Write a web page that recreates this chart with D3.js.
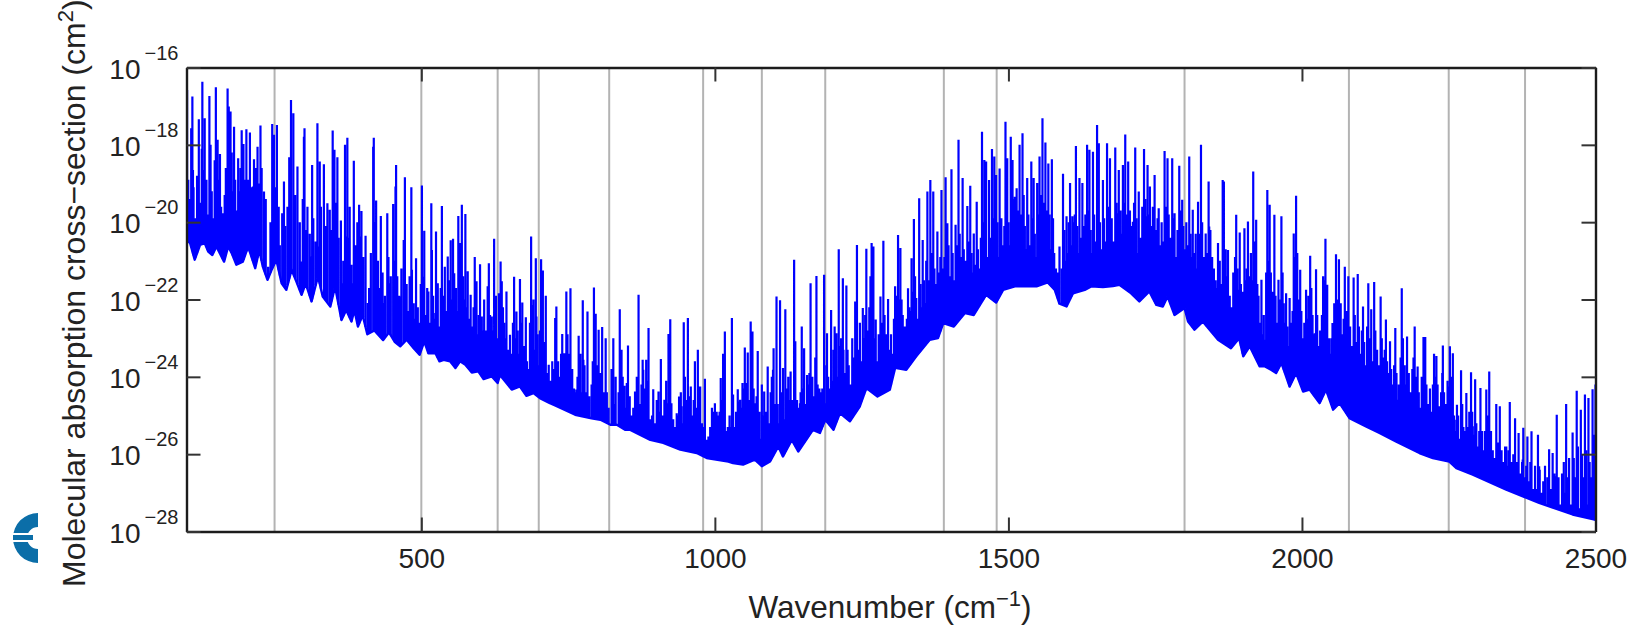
<!DOCTYPE html>
<html>
<head>
<meta charset="utf-8">
<script src="https://cdn.jsdelivr.net/npm/d3@7"></script>
<style>
  html, body { margin: 0; background: #fff; }
  text { font-family: "Liberation Sans", Arial, sans-serif; fill: #222; }
</style>
</head>
<body>
<svg id="chart" width="1636" height="626"></svg>
<script>
// all spectrum points are [wavenumber in cm-1, log10 of cross-section in cm2]

// tall lines, by stretch of the spectrum
var peaksFarIr = [[101,-16.58],[108,-17.57],[110,-16.75],[121,-17.34],[127,-16.37],[131,-17.31],[139,-16.74],[141,-18.0],[150,-16.51],[153,-17.87],[157,-18.24],[170,-16.54],[172,-17.01],[175,-17.14],[181,-17.53],[188,-18.35],[194,-17.62],[197,-17.98],[202,-17.6],[208,-17.68],[215,-18.37],[221,-18.05],[226,-17.5],[232,-19.21],[246,-17.46],[249,-17.74],[254,-17.49],[263,-19.77],[266,-18.95],[275,-18.32],[278,-16.84],[282,-17.18],[289,-18.56],[300,-17.79],[301,-17.57],[314,-18.52],[323,-17.44],[327,-18.43],[334,-18.5],[340,-19.51],[344,-19.68],[349,-17.63],[352,-18.13],[357,-18.32],[363,-19.96],[370,-18.0],[374,-17.82],[378,-19.6],[385,-18.41],[394,-19.55],[398,-19.71],[405,-20.35],[418,-18.05],[419,-17.82],[423,-19.44],[431,-19.84],[442,-19.77],[452,-19.53],[456,-19.08],[457,-18.52]];
var peaksWindowLeft = [[470,-20.46],[472,-18.84],[483,-19.1],[484,-21.23],[491,-20.93],[501,-19.05],[505,-20.22],[512,-21.79],[517,-19.51],[518,-20.72],[525,-20.24],[528,-21.58],[535,-19.58],[540,-21.15],[545,-20.89],[550,-20.47],[554,-20.43],[556,-21.32],[563,-19.84],[566,-20.54],[569,-19.55],[575,-19.79],[579,-21.27],[584,-21.88],[591,-20.9],[594,-21.53],[600,-21.09],[603,-22.44],[613,-21.66],[615,-21.06],[620,-22.44],[624,-20.43],[632,-21.84],[635,-21.02],[637,-21.53],[645,-21.79],[651,-22.91],[658,-21.41],[662,-22.31],[668,-21.47],[672,-22.08],[678,-22.46],[687,-20.37],[689,-22.14],[695,-20.93],[696,-22.44],[704,-20.96],[707,-21.25],[712,-21.9],[717,-23.69],[728,-22.48],[730,-22.18],[740,-22.89],[744,-23.39],[747,-21.79],[754,-21.71],[768,-22.94],[775,-22.02],[783,-22.31],[794,-21.69],[797,-22.37],[802,-22.78],[808,-22.71],[814,-23.0],[827,-23.0]];
var peaksWindowRight = [[838,-22.25],[841,-23.3],[846,-24.23],[852,-23.19],[864,-24.38],[870,-21.88],[877,-23.56],[883,-23.56],[887,-22.74],[895,-24.32],[904,-24.38],[908,-23.54],[914,-24.59],[921,-22.89],[924,-22.51],[926,-24.68],[935,-24.94],[939,-24.51],[947,-22.59],[954,-22.48],[959,-24.25],[966,-23.6],[971,-23.3],[975,-24.25],[983,-24.05],[989,-25.54],[1000,-24.72],[1010,-24.03],[1014,-23.4],[1017,-22.83],[1029,-22.48],[1031,-24.46],[1039,-24.32],[1042,-24.64],[1047,-24.16],[1051,-23.24],[1056,-23.37],[1061,-22.57],[1064,-22.83],[1073,-23.33],[1080,-24.2],[1084,-24.38],[1090,-23.73],[1100,-23.26],[1105,-21.92],[1111,-22.02],[1116,-23.77],[1120,-22.25],[1129,-23.86],[1135,-20.97],[1137,-23.08],[1148,-22.7],[1152,-23.26],[1157,-23.95],[1163,-21.58],[1173,-21.39],[1186,-21.36],[1191,-22.87],[1198,-22.27],[1204,-22.7],[1211,-20.7]];
var peaksBandRise = [[1218,-21.45],[1224,-21.64],[1239,-22.05],[1242,-20.59],[1252,-22.22],[1258,-20.69],[1265,-21.4],[1267,-20.54],[1270,-20.63],[1274,-22.52],[1282,-21.92],[1287,-20.48],[1295,-21.99],[1307,-21.66],[1312,-20.33],[1316,-20.67],[1329,-21.71],[1335,-20.93],[1339,-19.92],[1343,-21.96],[1348,-19.38],[1354,-20.46],[1362,-19.21],[1367,-18.91],[1372,-19.21],[1379,-20.24],[1386,-19.17],[1393,-18.84],[1396,-20.03],[1403,-18.63],[1410,-20.07],[1415,-17.87],[1422,-18.86],[1430,-19.58],[1435,-19.06],[1441,-20.29],[1446,-19.47],[1455,-17.66],[1459,-18.39],[1462,-18.43],[1467,-18.91],[1472,-18.11],[1476,-18.3],[1479,-18.78],[1485,-18.61],[1495,-17.4],[1498,-18.35],[1504,-17.79],[1507,-18.39],[1514,-19.12],[1519,-18.0],[1524,-17.7],[1532,-18.86],[1539,-18.43],[1543,-18.86],[1549,-18.99],[1553,-18.3],[1558,-17.31],[1563,-17.94],[1568,-18.48],[1574,-18.37]];
var peaksBandFall = [[1587,-20.63],[1593,-18.75],[1599,-19.85],[1605,-18.99],[1609,-19.85],[1615,-18.03],[1621,-18.86],[1626,-18.99],[1634,-18.0],[1638,-18.13],[1644,-18.18],[1651,-17.49],[1654,-17.96],[1661,-18.91],[1668,-17.96],[1673,-18.35],[1682,-18.07],[1688,-18.65],[1695,-18.52],[1699,-17.73],[1704,-18.43],[1716,-18.07],[1722,-19.21],[1731,-18.11],[1737,-18.52],[1741,-19.08],[1749,-18.78],[1756,-19.64],[1766,-18.16],[1771,-18.35],[1779,-18.35],[1783,-19.77],[1791,-18.54],[1796,-19.42],[1808,-18.3],[1814,-19.68],[1823,-19.47],[1828,-18.0],[1836,-20.29],[1841,-18.95],[1857,-20.54],[1865,-18.91],[1867,-18.95],[1874,-20.72],[1888,-19.81]];
var peaksTail = [[1894,-20.27],[1902,-20.16],[1908,-19.98],[1917,-18.69],[1922,-19.94],[1931,-21.49],[1941,-19.17],[1945,-19.55],[1953,-19.81],[1960,-21.49],[1965,-19.85],[1973,-21.84],[1979,-21.96],[1986,-20.29],[1990,-19.32],[1997,-21.23],[2007,-21.75],[2014,-20.87],[2024,-21.22],[2036,-21.4],[2040,-20.43],[2043,-21.62],[2052,-22.61],[2058,-20.83],[2063,-20.96],[2073,-21.15],[2079,-21.4],[2088,-21.43],[2095,-21.34],[2104,-22.18],[2113,-21.58],[2118,-22.25],[2123,-21.55],[2134,-21.92],[2143,-22.52],[2150,-23.08],[2159,-22.74],[2170,-21.71],[2179,-22.96],[2192,-22.7],[2197,-23.73],[2207,-22.97],[2210,-22.97],[2225,-23.4],[2229,-23.46],[2240,-23.19],[2252,-23.21],[2257,-23.39],[2264,-24.72],[2271,-23.83],[2280,-24.42],[2288,-23.88],[2295,-24.06],[2304,-24.29],[2314,-24.33],[2319,-23.86],[2331,-24.7],[2337,-24.76],[2354,-24.65],[2363,-25.07],[2369,-25.45],[2377,-25.32],[2384,-25.54],[2391,-25.41],[2402,-25.5],[2421,-25.87],[2427,-25.97],[2434,-24.98],[2450,-24.7],[2461,-25.44],[2468,-24.36],[2475,-24.85],[2482,-24.46],[2488,-24.55],[2495,-24.32],[2500,-24.2]];

// lower edge of the spectrum
var floorEdge = [[100,-20.46],[106,-20.54],[114,-20.97],[123,-20.59],[131,-20.54],[137,-20.76],[144,-20.85],[151,-20.63],[164,-21.02],[171,-20.63],[177,-20.8],[185,-21.1],[196,-21.02],[205,-20.63],[217,-21.19],[224,-20.72],[230,-21.15],[238,-21.49],[245,-21.23],[253,-20.97],[262,-21.58],[270,-21.75],[279,-21.23],[287,-21.53],[296,-21.88],[303,-21.58],[313,-22.05],[324,-21.4],[332,-21.92],[345,-22.18],[353,-21.66],[364,-22.53],[372,-22.27],[381,-22.57],[386,-22.27],[392,-22.7],[400,-22.4],[408,-22.9],[420,-22.8],[435,-23.05],[445,-22.85],[455,-23.1],[464,-23.21],[475,-23.04],[487,-23.26],[497,-23.43],[505,-23.08],[512,-23.39],[524,-23.39],[531,-23.6],[538,-23.56],[549,-23.6],[558,-23.77],[566,-23.6],[575,-23.69],[586,-23.89],[597,-23.86],[606,-24.06],[620,-23.99],[630,-24.16],[634,-23.95],[654,-24.33],[668,-24.25],[679,-24.49],[691,-24.42],[702,-24.55],[719,-24.68],[725,-24.72],[762,-24.98],[790,-25.07],[805,-25.11],[822,-25.24],[833,-25.24],[847,-25.37],[856,-25.37],[873,-25.5],[890,-25.63],[912,-25.71],[941,-25.88],[969,-25.97],[986,-26.1],[1023,-26.19],[1031,-26.23],[1048,-26.27],[1068,-26.14],[1080,-26.31],[1094,-26.19],[1108,-25.8],[1116,-26.06],[1131,-25.63],[1142,-25.93],[1167,-25.37],[1179,-25.45],[1188,-25.11],[1202,-25.37],[1213,-24.94],[1230,-25.15],[1247,-24.76],[1258,-24.29],[1277,-24.51],[1298,-24.33],[1307,-23.77],[1326,-23.82],[1343,-23.47],[1366,-23.04],[1380,-23.0],[1389,-22.61],[1407,-22.7],[1426,-22.35],[1441,-22.4],[1462,-21.88],[1479,-22.08],[1491,-21.75],[1511,-21.66],[1528,-21.66],[1548,-21.66],[1567,-21.56],[1579,-21.75],[1587,-22.11],[1599,-22.18],[1610,-21.84],[1630,-21.75],[1641,-21.66],[1661,-21.68],[1678,-21.65],[1689,-21.62],[1709,-21.84],[1723,-22.05],[1740,-21.79],[1752,-22.14],[1763,-22.18],[1771,-21.92],[1783,-22.4],[1800,-22.22],[1806,-22.57],[1817,-22.78],[1831,-22.57],[1857,-23.04],[1879,-23.26],[1893,-23.0],[1900,-23.47],[1911,-23.21],[1928,-23.73],[1937,-23.73],[1948,-23.82],[1956,-23.9],[1965,-23.64],[1979,-24.25],[1990,-23.9],[2002,-24.38],[2013,-24.33],[2030,-24.68],[2041,-24.33],[2053,-24.85],[2064,-24.68],[2081,-25.07],[2109,-25.28],[2132,-25.45],[2160,-25.67],[2200,-25.97],[2223,-26.1],[2251,-26.19],[2263,-26.36],[2291,-26.53],[2348,-26.92],[2404,-27.26],[2461,-27.56],[2495,-27.68],[2500,-27.7]];

// medium lines
var midLines = [[100,-18.48],[111,-18.65],[123,-19.68],[128,-18.65],[140,-19.77],[151,-19.08],[162,-19.77],[174,-18.65],[185,-19.85],[199,-19.68],[213,-19.08],[222,-20.03],[233,-20.2],[239,-21.15],[249,-19.51],[259,-20.72],[273,-19.85],[284,-20.11],[296,-21.02],[301,-19.94],[313,-20.89],[324,-20.63],[335,-20.97],[344,-21.4],[352,-19.68],[364,-21.58],[372,-20.37],[384,-21.58],[395,-20.37],[409,-22.09],[420,-20.72],[435,-22.09],[446,-21.58],[463,-21.92],[470,-22.01],[481,-22.52],[492,-23.04],[504,-21.41],[512,-22.87],[521,-22.35],[529,-23.04],[538,-22.35],[546,-22.7],[558,-22.18],[569,-22.27],[580,-22.87],[592,-23.13],[600,-23.3],[617,-22.61],[628,-23.13],[634,-21.84],[645,-22.96],[660,-23.56],[668,-23.13],[679,-24.08],[691,-23.13],[702,-23.39],[713,-24.08],[725,-24.16],[742,-23.39],[753,-23.99],[764,-24.33],[776,-23.56],[793,-24.33],[805,-23.9],[813,-25.11],[825,-24.68],[839,-25.02],[850,-24.16],[858,-25.2],[878,-23.82],[890,-25.45],[901,-25.28],[918,-24.68],[932,-25.37],[943,-24.76],[958,-25.45],[972,-24.25],[986,-25.63],[1000,-24.68],[1017,-25.28],[1031,-25.28],[1043,-24.59],[1054,-24.16],[1068,-24.68],[1082,-25.02],[1099,-23.82],[1116,-24.25],[1131,-24.68],[1145,-24.68],[1156,-24.94],[1173,-24.25],[1188,-24.68],[1196,-24.42],[1207,-22.87],[1219,-23.3],[1233,-24.33],[1247,-23.47],[1261,-23.39],[1275,-23.82],[1290,-23.3],[1298,-23.9],[1309,-22.52],[1326,-22.7],[1341,-22.7],[1358,-22.44],[1372,-21.66],[1389,-21.4],[1409,-22.18],[1429,-21.15],[1462,-20.89],[1479,-20.63],[1496,-20.03],[1511,-19.34],[1525,-19.68],[1539,-20.54],[1548,-20.97],[1559,-20.29],[1576,-20.97],[1587,-21.84],[1599,-21.32],[1610,-20.2],[1621,-20.97],[1635,-20.11],[1650,-20.97],[1661,-20.2],[1675,-20.63],[1686,-19.77],[1701,-20.89],[1712,-19.99],[1723,-21.66],[1735,-19.85],[1752,-20.89],[1771,-20.11],[1783,-21.66],[1794,-20.03],[1808,-21.32],[1823,-21.15],[1834,-21.92],[1842,-20.11],[1854,-22.09],[1865,-20.89],[1879,-22.7],[1891,-21.75],[1900,-22.35],[1911,-22.18],[1922,-22.52],[1937,-23.04],[1945,-21.49],[1956,-22.87],[1965,-22.35],[1979,-23.56],[1988,-21.49],[1999,-23.47],[2010,-23.04],[2022,-22.87],[2033,-23.21],[2044,-23.73],[2056,-23.99],[2070,-23.56],[2087,-23.73],[2104,-23.9],[2121,-24.25],[2135,-23.56],[2149,-23.9],[2163,-24.59],[2180,-24.42],[2195,-24.76],[2212,-24.76],[2234,-24.76],[2251,-24.25],[2263,-25.11],[2291,-25.28],[2319,-25.11],[2348,-25.8],[2376,-26.14],[2404,-26.31],[2433,-26.57],[2461,-26.31],[2484,-26.14],[2500,-25.45]];

// short lines that pack together above the floor
var shortFarIr = [[103,-18.9],[106,-19.4],[112,-19.1],[115,-19.9],[118,-18.8],[124,-19.5],[126,-18.1],[134,-18.9],[136,-19.8],[143,-19.2],[146,-19.9],[148,-18.4],[155,-18.9],[159,-19.6],[161,-20.1],[165,-19.3],[167,-18.6],[177,-18.2],[179,-19.2],[183,-18.9],[186,-19.7],[190,-19.2],[192,-18.6],[199,-18.9],[205,-18.9],[211,-19.1],[218,-18.6],[224,-19.0],[228,-18.6],[235,-19.4],[243,-20.0],[248,-18.6],[251,-19.1],[257,-19.6],[259,-20.6],[268,-20.1],[272,-19.6],[276,-19.4],[285,-19.3],[293,-20.0],[298,-19.4],[304,-20.2],[306,-19.6],[310,-20.3],[316,-19.9],[320,-20.5],[329,-19.6],[337,-20.1],[347,-20.2],[355,-19.5],[359,-20.4],[367,-21.0],[376,-20.4],[381,-21.1],[388,-20.6],[391,-20.0],[396,-21.2],[401,-20.9],[411,-21.7],[414,-20.8],[421,-20.0],[426,-21.0],[428,-21.7],[434,-21.3],[438,-21.9],[444,-20.9],[448,-21.4],[454,-21.0],[459,-21.4],[462,-21.9],[466,-21.2]];
var shortWindowLeft = [[475,-21.6],[478,-22.3],[480,-21.4],[487,-22.1],[489,-22.5],[494,-22.2],[497,-22.6],[499,-21.6],[503,-22.0],[508,-22.4],[510,-21.7],[514,-22.6],[520,-21.9],[523,-22.5],[527,-22.1],[531,-22.7],[533,-21.7],[537,-21.9],[542,-22.3],[548,-21.5],[552,-22.0],[559,-21.7],[561,-22.3],[565,-21.9],[571,-21.4],[573,-22.0],[577,-22.2],[581,-22.5],[586,-22.7],[589,-22.2],[596,-22.9],[598,-22.4],[605,-22.8],[607,-22.0],[610,-22.8],[617,-22.4],[622,-22.8],[627,-21.9],[629,-23.0],[639,-22.2],[641,-22.6],[643,-23.0],[648,-23.3],[654,-23.4],[656,-22.6],[660,-23.0],[664,-22.8],[666,-23.4],[670,-22.6],[675,-23.2],[680,-23.6],[683,-23.8],[685,-22.6],[691,-22.0],[693,-23.3],[698,-22.9],[700,-23.7],[702,-22.8],[709,-23.1],[714,-23.9],[720,-24.1],[723,-23.6],[726,-23.8],[733,-23.6],[735,-24.0],[738,-23.4],[742,-24.2],[749,-22.9],[752,-23.4],[757,-23.8],[760,-24.3],[763,-24.4],[766,-24.0],[771,-23.4],[773,-24.4],[778,-23.7],[781,-24.4],[786,-24.5],[790,-24.2],[792,-23.6],[799,-23.7],[804,-24.0],[806,-24.5],[811,-24.4],[816,-24.4],[819,-24.8],[824,-23.8],[829,-24.7],[831,-24.0],[836,-24.4],[843,-24.0],[849,-24.8]];
var shortWindowRight = [[855,-24.5],[858,-25.0],[861,-24.8],[867,-24.0],[872,-24.7],[875,-24.2],[880,-24.3],[885,-24.1],[890,-25.1],[893,-25.0],[898,-25.2],[901,-24.6],[906,-24.9],[911,-25.0],[917,-24.1],[919,-24.8],[929,-25.1],[932,-25.3],[937,-25.0],[942,-24.4],[944,-25.2],[949,-24.0],[951,-24.6],[956,-24.5],[962,-25.0],[964,-24.6],[968,-24.8],[973,-24.8],[978,-25.2],[981,-25.3],[986,-25.7],[992,-25.3],[995,-24.8],[998,-24.9],[1003,-24.9],[1006,-25.0],[1008,-24.9],[1012,-24.6],[1019,-25.4],[1022,-25.3],[1025,-25.0],[1027,-25.3],[1033,-25.3],[1036,-24.9],[1041,-25.5],[1044,-24.8],[1049,-24.3],[1053,-25.0],[1059,-24.6],[1066,-24.3],[1069,-25.3],[1071,-24.5],[1076,-24.9],[1078,-25.6],[1082,-25.0],[1087,-24.9],[1092,-25.2],[1095,-24.4],[1097,-24.0],[1102,-24.7],[1107,-24.7],[1109,-25.2],[1113,-24.4],[1118,-25.1],[1122,-24.3],[1125,-24.0],[1127,-24.6],[1132,-24.6],[1140,-24.6],[1143,-24.8],[1146,-24.4],[1150,-24.3],[1154,-24.7],[1159,-24.2],[1161,-23.9],[1166,-24.0],[1168,-24.5],[1171,-23.5],[1175,-24.2],[1178,-24.3],[1181,-24.4],[1183,-24.3],[1190,-23.7],[1193,-24.0],[1195,-24.3],[1200,-24.1],[1202,-23.3],[1206,-23.0],[1209,-24.0]];
var shortBandRise = [[1213,-23.2],[1215,-23.0],[1221,-23.9],[1226,-23.3],[1228,-23.7],[1231,-24.2],[1234,-23.0],[1236,-23.5],[1241,-22.8],[1244,-23.3],[1247,-22.6],[1250,-23.6],[1254,-23.0],[1256,-22.4],[1260,-22.8],[1263,-22.2],[1269,-22.5],[1272,-23.0],[1276,-23.6],[1279,-22.9],[1284,-22.6],[1289,-22.4],[1292,-22.9],[1297,-23.3],[1300,-22.9],[1303,-23.4],[1305,-22.5],[1310,-21.9],[1314,-22.0],[1318,-22.0],[1320,-22.4],[1323,-22.7],[1327,-22.5],[1331,-22.2],[1333,-22.3],[1337,-21.8],[1341,-21.4],[1345,-22.5],[1350,-21.6],[1352,-22.2],[1356,-21.5],[1358,-22.1],[1360,-21.0],[1364,-21.5],[1369,-20.8],[1371,-21.6],[1374,-21.2],[1377,-21.6],[1381,-21.3],[1384,-20.9],[1388,-21.2],[1391,-20.9],[1394,-21.1],[1398,-20.6],[1401,-21.4],[1405,-20.8],[1408,-21.5],[1412,-20.6],[1417,-20.3],[1419,-20.9],[1424,-20.7],[1427,-21.0],[1432,-20.5],[1437,-20.8],[1439,-21.3],[1443,-21.1],[1448,-20.7],[1450,-21.2],[1453,-20.4],[1457,-20.0],[1461,-20.3],[1464,-20.9],[1469,-20.4],[1471,-21.1],[1474,-19.9],[1477,-20.6],[1481,-20.0],[1483,-20.9],[1488,-19.9],[1490,-20.6],[1493,-20.1],[1497,-19.4],[1500,-20.0],[1502,-20.6],[1505,-19.7],[1509,-19.4],[1512,-20.2],[1516,-19.7],[1518,-20.5],[1521,-19.8],[1526,-19.3],[1528,-20.1],[1530,-20.7],[1534,-19.8],[1536,-20.6],[1541,-19.9],[1545,-20.3],[1547,-20.9],[1551,-19.8],[1555,-19.3],[1557,-20.2],[1560,-19.5],[1565,-19.7],[1567,-20.4],[1570,-19.8],[1572,-20.7],[1576,-19.9],[1578,-20.8],[1581,-21.2],[1584,-21.3]];
var shortBandFall = [[1591,-21.2],[1595,-20.2],[1597,-21.0],[1601,-20.8],[1603,-20.0],[1607,-20.6],[1611,-20.0],[1613,-19.8],[1617,-20.1],[1619,-20.8],[1623,-20.4],[1625,-20.9],[1628,-20.1],[1631,-19.8],[1633,-20.7],[1636,-19.7],[1640,-20.2],[1642,-20.8],[1646,-19.8],[1648,-20.5],[1653,-19.6],[1656,-20.0],[1658,-20.7],[1663,-19.9],[1665,-20.5],[1670,-19.6],[1672,-20.4],[1676,-19.9],[1679,-20.5],[1684,-19.5],[1687,-20.0],[1691,-19.7],[1693,-20.3],[1697,-19.5],[1701,-19.8],[1703,-20.5],[1707,-19.7],[1710,-20.1],[1714,-19.5],[1718,-19.9],[1720,-20.8],[1725,-20.4],[1728,-19.6],[1733,-19.4],[1735,-20.1],[1739,-19.8],[1743,-20.1],[1746,-19.6],[1751,-20.2],[1754,-19.9],[1758,-20.6],[1761,-20.0],[1763,-20.5],[1768,-19.6],[1773,-19.8],[1776,-20.4],[1781,-19.9],[1785,-20.9],[1788,-20.2],[1793,-19.7],[1798,-20.1],[1800,-20.7],[1803,-20.0],[1806,-20.6],[1810,-20.3],[1812,-20.9],[1816,-20.8],[1819,-20.3],[1821,-21.2],[1826,-20.3],[1830,-20.0],[1833,-20.9],[1838,-20.8],[1844,-20.2],[1847,-20.9],[1850,-21.2],[1853,-21.5],[1856,-21.7],[1860,-21.0],[1862,-21.6],[1870,-20.7],[1872,-21.4],[1877,-21.9],[1880,-22.2],[1883,-21.3],[1886,-20.9],[1890,-21.2],[1892,-22.1]];
var shortTail = [[1896,-21.6],[1899,-21.8],[1904,-21.5],[1906,-21.2],[1910,-21.4],[1913,-20.8],[1915,-21.5],[1919,-20.5],[1924,-21.6],[1926,-21.9],[1929,-22.6],[1933,-22.9],[1935,-22.4],[1939,-21.3],[1943,-21.0],[1947,-21.3],[1950,-21.8],[1955,-21.9],[1958,-22.6],[1962,-22.0],[1967,-21.3],[1969,-22.1],[1971,-22.6],[1975,-22.7],[1977,-23.2],[1982,-22.6],[1984,-22.3],[1988,-20.9],[1992,-20.8],[1994,-22.0],[1999,-22.3],[2001,-23.0],[2004,-22.6],[2009,-22.5],[2011,-21.9],[2016,-21.7],[2018,-22.4],[2020,-22.9],[2026,-22.4],[2028,-23.2],[2031,-22.8],[2034,-22.4],[2038,-21.5],[2042,-22.6],[2046,-23.0],[2048,-23.4],[2050,-23.0],[2055,-22.1],[2060,-22.0],[2062,-22.8],[2066,-22.1],[2069,-22.9],[2071,-22.5],[2076,-22.3],[2078,-23.2],[2082,-22.7],[2085,-23.2],[2090,-22.4],[2092,-23.1],[2097,-22.7],[2100,-23.4],[2102,-22.8],[2106,-23.1],[2108,-23.7],[2111,-22.7],[2116,-23.0],[2120,-23.6],[2125,-22.8],[2128,-23.3],[2131,-23.7],[2136,-23.0],[2138,-23.5],[2141,-23.3],[2145,-23.6],[2148,-23.9],[2152,-23.8],[2155,-24.2],[2157,-23.7],[2161,-23.9],[2165,-24.2],[2168,-23.5],[2172,-23.0],[2175,-23.7],[2177,-24.2],[2182,-23.9],[2185,-24.4],[2188,-23.8],[2190,-23.5],[2194,-24.0],[2199,-24.4],[2201,-24.8],[2204,-24.0],[2208,-23.9],[2212,-24.2],[2215,-24.7],[2218,-24.3],[2220,-24.9],[2223,-24.2],[2227,-24.0],[2231,-24.2],[2233,-24.8],[2237,-24.4],[2239,-23.9],[2242,-24.4],[2245,-24.7],[2248,-24.1],[2250,-24.6],[2254,-24.0],[2256,-24.7],[2259,-25.0],[2261,-25.4],[2266,-25.0],[2268,-25.6],[2273,-24.7],[2275,-25.3],[2278,-25.4],[2283,-25.3],[2285,-24.9],[2290,-24.9],[2293,-25.5],[2297,-25.2],[2300,-25.8],[2302,-25.4],[2307,-25.4],[2310,-25.9],[2312,-25.4],[2317,-25.0],[2322,-25.4],[2325,-25.9],[2328,-26.1],[2334,-25.7],[2340,-25.9],[2343,-26.2],[2346,-25.8],[2350,-26.3],[2352,-25.9],[2357,-26.2],[2360,-26.0],[2366,-26.2],[2372,-26.5],[2375,-26.2],[2380,-26.6],[2382,-26.3],[2387,-26.7],[2389,-26.2],[2394,-26.9],[2397,-26.3],[2399,-26.9],[2405,-26.4],[2408,-27.0],[2411,-26.7],[2414,-26.3],[2418,-26.6],[2424,-26.9],[2430,-26.5],[2433,-27.2],[2437,-26.6],[2440,-27.3],[2443,-26.5],[2446,-26.2],[2448,-27.0],[2452,-26.6],[2455,-26.1],[2458,-27.3],[2463,-26.1],[2466,-26.6],[2470,-25.8],[2472,-27.4],[2477,-26.0],[2480,-26.6],[2484,-25.9],[2486,-27.3],[2490,-26.2],[2492,-26.6],[2497,-25.5],[2499,-25.9]];

var bandEdges = [250, 500, 630, 700, 820, 980, 1080, 1188, 1390, 1480, 1800, 2080, 2250, 2380];
var xTicks = [500, 1000, 1500, 2000, 2500];
var yExponents = [-16, -18, -20, -22, -24, -26, -28];

var margin = {top: 67.5, right: 40.5, bottom: 94.5, left: 186.5},
width = 1636 - margin.left - margin.right,
height = 626 - margin.top - margin.bottom;

var svg = d3.select('#chart');

var x = d3.scaleLinear().domain([100, 2500]).range([0, width]);
var y = d3.scaleLog().domain([1e-28, 1e-16]).range([height, 0]);

// the reference is a slightly soft raster, the spectrum gets the same softness
svg.append('filter').attr('id', 'soft')
    .attr('filterUnits', 'userSpaceOnUse')
    .attr('x', 0).attr('y', 0).attr('width', 1636).attr('height', 626)
    .append('feGaussianBlur').attr('stdDeviation', 0.45);

var g = svg.append('g').attr('transform', 'translate(' + margin.left + ',' + margin.top + ')');

g.append('clipPath').attr('id', 'plot').append('rect').attr('width', width).attr('height', height);

// band limits go under the spectrum
g.selectAll('.band').data(bandEdges).enter().append('line')
    .attr('class', 'band')
    .attr('x1', d => x(d)).attr('x2', d => x(d))
    .attr('y1', 0).attr('y2', height)
    .attr('stroke', '#b3b3b3').attr('stroke-width', 2);

var line = d3.line()
    .defined(d => d !== null)
    .x(d => x(d[0]))
    .y(d => y(Math.pow(10, d[1])));

var spectrum = g.append('g').attr('clip-path', 'url(#plot)').append('g').attr('filter', 'url(#soft)');

// the lower edge itself
spectrum.append('path')
    .attr('d', line(floorEdge))
    .attr('fill', 'none').attr('stroke', '#0000ff').attr('stroke-width', 2.4).attr('stroke-linejoin', 'round');

// each line comes down to the lower edge
var floorAt = d3.bisector(d => d[0]);
function footOf(wn) {
    var i = Math.min(Math.max(floorAt.left(floorEdge, wn), 1), floorEdge.length - 1);
    var a = floorEdge[i - 1], b = floorEdge[i];
    return a[1] + (b[1] - a[1]) * (wn - a[0]) / (b[0] - a[0]);
}

var allLines = [].concat(peaksFarIr, peaksWindowLeft, peaksWindowRight, peaksBandRise, peaksBandFall, peaksTail, midLines,
    shortFarIr, shortWindowLeft, shortWindowRight, shortBandRise, shortBandFall, shortTail);
var sticks = [];
allLines.forEach(function(p) {
    sticks.push([p[0], footOf(p[0])], p, null);
});

spectrum.append('path')
    .attr('d', line(sticks))
    .attr('fill', 'none').attr('stroke', '#0000ff').attr('stroke-width', 2.2);

// axes, ticks point inwards on all four sides
var tickLen = 14;

g.append('g').attr('class', 'axis')
    .attr('transform', 'translate(0,' + height + ')')
    .call(d3.axisBottom(x).tickValues(xTicks).tickSize(-tickLen).tickPadding(17).tickSizeOuter(0).tickFormat(d3.format('d')));
g.append('g').attr('class', 'axis')
    .call(d3.axisTop(x).tickValues(xTicks).tickSize(-tickLen).tickFormat('').tickSizeOuter(0));
g.append('g').attr('class', 'axis')
    .call(d3.axisLeft(y).tickValues(yExponents.map(e => Math.pow(10, e))).tickSize(-tickLen).tickFormat('').tickSizeOuter(0));
g.append('g').attr('class', 'axis')
    .attr('transform', 'translate(' + width + ',0)')
    .call(d3.axisRight(y).tickValues(yExponents.map(e => Math.pow(10, e))).tickSize(-tickLen).tickFormat('').tickSizeOuter(0));

g.selectAll('.axis path').attr('stroke', '#1c1c1c').attr('stroke-width', 2.4);
g.selectAll('.axis line').attr('stroke', '#333').attr('stroke-width', 2);
g.selectAll('.axis text').attr('font-size', 28).style('fill', '#222');

// powers of ten on the left
yExponents.forEach(function(e) {
    var py = y(Math.pow(10, e));
    g.append('text')
        .attr('x', -46).attr('y', py + 11)
        .attr('text-anchor', 'end').attr('font-size', 28)
        .text('10');
    g.append('text')
        .attr('x', -8).attr('y', py - 8)
        .attr('text-anchor', 'end').attr('font-size', 20)
        .text('\u2212' + Math.abs(e));
});

// titles
var xTitle = svg.append('text')
    .attr('x', 890).attr('y', 618)
    .attr('text-anchor', 'middle').attr('font-size', 31.5);
xTitle.append('tspan').text('Wavenumber (cm');
xTitle.append('tspan').attr('font-size', 22).attr('dy', -12).text('\u22121');
xTitle.append('tspan').attr('dy', 12).text(')');

var yTitle = svg.append('text')
    .attr('transform', 'translate(85,587) rotate(-90)')
    .attr('font-size', 32);
yTitle.append('tspan').text('Molecular absorption cross\u2212section (cm');
yTitle.append('tspan').attr('font-size', 22).attr('dy', -12).text('2');
yTitle.append('tspan').attr('dy', 12).text(')');

// publisher mark, bottom left
var mark = svg.append('g').attr('transform', 'translate(38,538)');
mark.append('path')
    .attr('d', d3.arc().innerRadius(11).outerRadius(25).startAngle(Math.PI).endAngle(2 * Math.PI)())
    .attr('fill', '#0b6ea8');
mark.append('rect').attr('x', -25).attr('y', -5).attr('width', 20).attr('height', 2).attr('fill', '#fff');
mark.append('rect').attr('x', -25).attr('y', 2).attr('width', 20).attr('height', 2).attr('fill', '#fff');
mark.append('rect').attr('x', -25).attr('y', -3).attr('width', 20).attr('height', 5).attr('fill', '#0b6ea8');
</script>
</body>
</html>
